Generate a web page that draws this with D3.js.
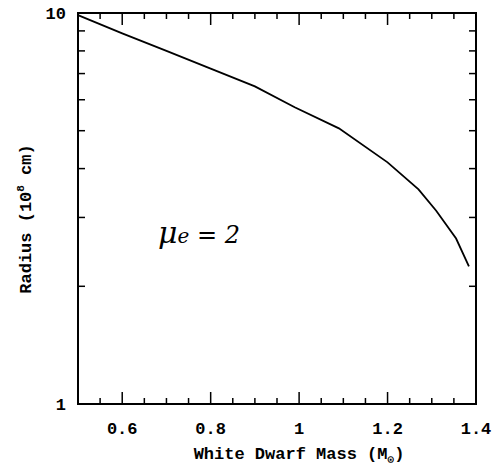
<html>
<head>
<style type="text/css">
  body { margin: 0; background: #fff; }
  text { font-family: "Liberation Mono", monospace; fill: #000; }
</style>
</head>
<body>
<svg id="viewport" width="496" height="465"></svg>
<script src="https://cdn.jsdelivr.net/npm/d3@7/dist/d3.min.js"></script>
<script>
  // DATA
  var mass = [0.5, 0.6, 0.7, 0.8, 0.9, 0.99, 1.09, 1.2, 1.27, 1.31, 1.355, 1.384];
  var radius = [9.88, 8.87, 8.0, 7.21, 6.49, 5.74, 5.07, 4.15, 3.54, 3.12, 2.65, 2.25];
  var xTickLabels = [0.6, 0.8, 1, 1.2, 1.4];
  var yTickLabels = [1, 10];

  var svg = d3.select("svg");
  var pLeft = 78, pRight = 476, pTop = 13, pBottom = 404;

  var x = d3.scaleLinear().domain([0.5, 1.4]).range([pLeft, pRight]);
  var y = d3.scaleLog().domain([1, 10]).range([pBottom, pTop]);

  var g = svg.append("g");

  // frame
  g.append("rect")
    .attr("x", pLeft).attr("y", pTop)
    .attr("width", pRight - pLeft).attr("height", pBottom - pTop)
    .attr("fill", "none").attr("stroke", "black").attr("stroke-width", 2);

  // x ticks, bottom and top
  var xMinor = d3.range(0.55, 1.4, 0.05);
  xMinor.forEach(function(v) {
    var major = Math.abs(Math.round(v * 5) - v * 5) < 1e-6;
    var len = major ? 12 : 6;
    g.append("line").attr("x1", x(v)).attr("x2", x(v))
      .attr("y1", pBottom).attr("y2", pBottom - len)
      .attr("stroke", "black").attr("stroke-width", 1.5);
    g.append("line").attr("x1", x(v)).attr("x2", x(v))
      .attr("y1", pTop).attr("y2", pTop + len)
      .attr("stroke", "black").attr("stroke-width", 1.5);
  });

  // y ticks, left and right
  d3.range(2, 10).forEach(function(v) {
    g.append("line").attr("x1", pLeft).attr("x2", pLeft + 7)
      .attr("y1", y(v)).attr("y2", y(v))
      .attr("stroke", "black").attr("stroke-width", 1.5);
    g.append("line").attr("x1", pRight).attr("x2", pRight - 7)
      .attr("y1", y(v)).attr("y2", y(v))
      .attr("stroke", "black").attr("stroke-width", 1.5);
  });

  // tick labels
  g.selectAll(".xl").data(xTickLabels).enter().append("text")
    .attr("x", function(d) { return x(d); })
    .attr("y", pBottom + 30)
    .attr("text-anchor", "middle")
    .attr("font-size", 17)
    .attr("font-weight", "bold")
    .text(function(d) { return d; });

  g.selectAll(".yl").data(yTickLabels).enter().append("text")
    .attr("x", pLeft - 12)
    .attr("y", function(d) { return y(d) + 6; })
    .attr("text-anchor", "end")
    .attr("font-size", 17)
    .attr("font-weight", "bold")
    .text(function(d) { return d; });

  // axis titles
  var xt = g.append("text")
    .attr("x", (pLeft + pRight) / 2 + 22)
    .attr("y", pBottom + 55)
    .attr("text-anchor", "middle")
    .attr("font-size", 17)
    .attr("font-weight", "bold");
  xt.append("tspan").text("White Dwarf Mass (M");
  xt.append("tspan").attr("font-size", 11).attr("dy", 4).text("\u2299");
  xt.append("tspan").attr("dy", -4).text(")");

  var yt = g.append("text")
    .attr("transform", "translate(31," + 219 + ") rotate(-90)")
    .attr("text-anchor", "middle")
    .attr("font-size", 17)
    .attr("font-weight", "bold");
  yt.append("tspan").text("Radius (10");
  yt.append("tspan").attr("font-size", 11).attr("dy", -7).text("8");
  yt.append("tspan").attr("dy", 7).text(" cm)");

  // curve
  var line = d3.line()
    .x(function(d, i) { return x(mass[i]); })
    .y(function(d, i) { return y(radius[i]); });

  g.append("path")
    .datum(radius)
    .attr("d", line)
    .attr("fill", "none")
    .attr("stroke", "black")
    .attr("stroke-width", 1.8);

  // annotation
  var ann = g.append("text")
    .attr("x", 158).attr("y", 243)
    .style("font-family", "'DejaVu Serif', serif")
    .style("font-style", "italic")
    .attr("font-size", 30);
  ann.append("tspan").text("\u03bc");
  ann.append("tspan").attr("font-size", 20).text("e");
  ann.append("tspan").attr("font-size", 24).text(" = 2");
</script>
</body>
</html>
